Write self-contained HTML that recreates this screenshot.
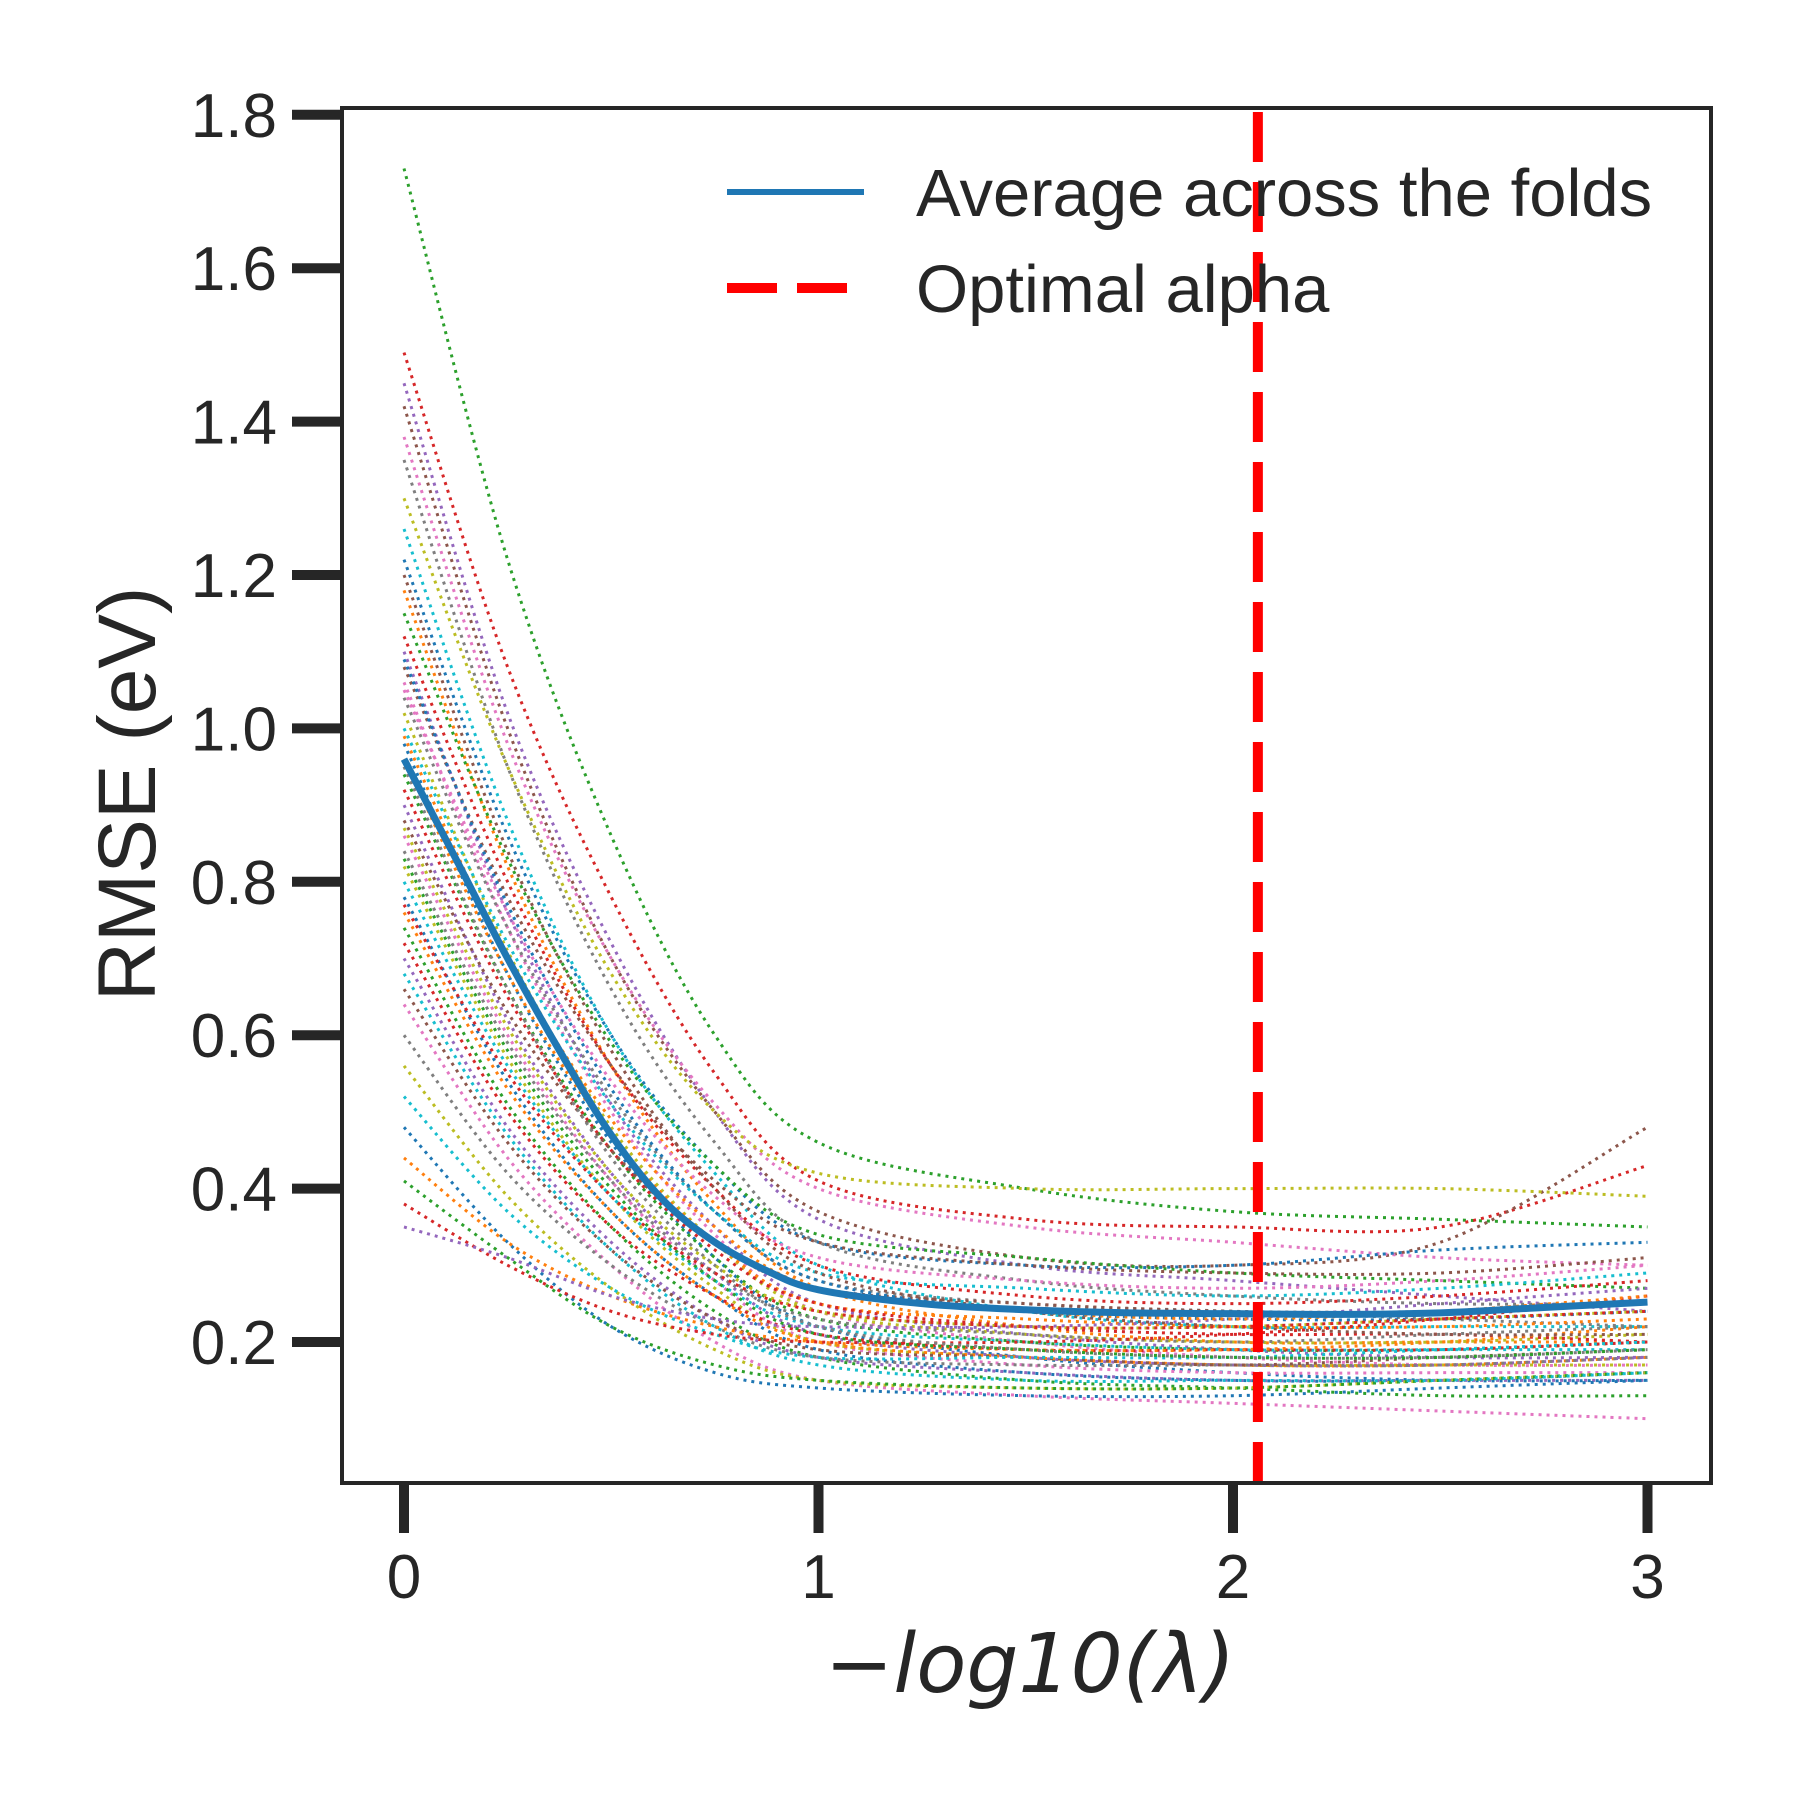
<!DOCTYPE html>
<html><head><meta charset="utf-8"><style>
html,body{margin:0;padding:0;background:#fff;width:1800px;height:1800px;overflow:hidden}
svg{display:block}
text{font-family:"Liberation Sans",Arial,sans-serif;fill:#262626}
</style></head><body>
<svg id="chart" width="1800" height="1800" viewBox="0 0 1800 1800" xmlns="http://www.w3.org/2000/svg">
<g id="folds"></g>
<g id="avg"></g>
<g id="opt"></g>
<rect x="342" y="108" width="1369" height="1375" fill="none" stroke="#262626" stroke-width="4"/>
<g id="yticks"></g>
<g id="xticks"></g>
<text x="0" y="0" font-size="82" text-anchor="middle" transform="translate(155,794) rotate(-90)">RMSE (eV)</text>
<text x="1030" y="1692" font-size="82" text-anchor="middle" style="font-family:'DejaVu Sans',sans-serif;font-style:italic">−log10(λ)</text>
<g>
<line x1="727" y1="192" x2="864" y2="192" stroke="#1f77b4" stroke-width="6"/>
<text x="916" y="216" font-size="67">Average across the folds</text>
<line x1="727" y1="288" x2="864" y2="288" stroke="#ff0000" stroke-width="10" stroke-dasharray="50 20"/>
<text x="916" y="312" font-size="67">Optimal alpha</text>
</g>
</svg>
<script>
const xPoints=[0,0.25,0.5,0.75,1,1.5,2,2.5,3];
const foldValues=[
[1.73,1.22,0.86,0.60,0.46,0.40,0.37,0.36,0.35],
[1.49,1.08,0.78,0.55,0.41,0.36,0.35,0.35,0.43],
[1.45,1.02,0.72,0.50,0.36,0.30,0.28,0.26,0.24],
[1.42,1.00,0.70,0.50,0.37,0.31,0.30,0.33,0.48],
[1.38,0.98,0.70,0.51,0.40,0.35,0.33,0.31,0.30],
[1.35,0.95,0.66,0.46,0.33,0.28,0.26,0.25,0.25],
[1.30,0.95,0.68,0.50,0.42,0.40,0.40,0.40,0.39],
[1.26,0.88,0.60,0.42,0.30,0.24,0.22,0.22,0.22],
[1.22,0.86,0.60,0.43,0.33,0.30,0.30,0.32,0.33],
[1.18,0.82,0.56,0.38,0.27,0.22,0.20,0.20,0.20],
[1.15,0.83,0.59,0.43,0.34,0.31,0.29,0.28,0.27],
[1.12,0.80,0.56,0.40,0.30,0.26,0.25,0.26,0.28],
[1.10,0.76,0.51,0.35,0.25,0.21,0.19,0.18,0.18],
[1.08,0.78,0.56,0.41,0.33,0.30,0.29,0.29,0.31],
[1.06,0.74,0.50,0.34,0.24,0.20,0.18,0.17,0.17],
[1.04,0.74,0.52,0.37,0.28,0.25,0.24,0.23,0.22],
[1.02,0.71,0.48,0.33,0.24,0.21,0.20,0.20,0.21],
[1.00,0.72,0.51,0.37,0.29,0.27,0.26,0.27,0.29],
[0.98,0.68,0.46,0.31,0.22,0.18,0.16,0.15,0.15],
[0.96,0.68,0.47,0.33,0.25,0.23,0.22,0.22,0.23],
[0.94,0.66,0.45,0.31,0.23,0.20,0.19,0.19,0.20],
[0.92,0.65,0.45,0.32,0.25,0.22,0.21,0.21,0.20],
[0.90,0.62,0.42,0.29,0.21,0.18,0.17,0.17,0.18],
[0.88,0.63,0.45,0.33,0.27,0.25,0.24,0.24,0.25],
[0.86,0.60,0.41,0.28,0.20,0.17,0.16,0.16,0.16],
[0.84,0.59,0.41,0.29,0.23,0.21,0.20,0.21,0.22],
[0.82,0.57,0.39,0.27,0.20,0.18,0.17,0.17,0.17],
[0.80,0.56,0.39,0.28,0.22,0.20,0.19,0.19,0.19],
[0.78,0.54,0.37,0.26,0.19,0.16,0.15,0.15,0.16],
[0.76,0.53,0.37,0.26,0.20,0.18,0.17,0.17,0.18],
[0.74,0.51,0.35,0.24,0.18,0.15,0.14,0.13,0.13],
[0.72,0.50,0.35,0.26,0.21,0.19,0.19,0.19,0.20],
[0.70,0.48,0.33,0.23,0.18,0.16,0.15,0.15,0.15],
[0.66,0.46,0.32,0.23,0.19,0.18,0.17,0.18,0.19],
[0.64,0.44,0.30,0.20,0.15,0.13,0.12,0.11,0.10],
[0.60,0.42,0.30,0.22,0.18,0.17,0.17,0.17,0.18],
[0.56,0.39,0.27,0.19,0.15,0.14,0.14,0.15,0.16],
[0.52,0.37,0.27,0.21,0.18,0.18,0.18,0.19,0.20],
[0.48,0.33,0.22,0.16,0.14,0.13,0.13,0.14,0.15],
[0.44,0.33,0.26,0.22,0.20,0.19,0.19,0.20,0.22],
[0.41,0.31,0.22,0.17,0.15,0.14,0.14,0.15,0.16],
[0.38,0.30,0.24,0.21,0.20,0.20,0.21,0.23,0.26],
[0.35,0.31,0.26,0.23,0.22,0.22,0.23,0.25,0.27],
[1.20,0.84,0.58,0.40,0.29,0.24,0.22,0.21,0.21],
[1.05,0.76,0.54,0.39,0.31,0.28,0.27,0.28,0.30],
[0.95,0.66,0.44,0.30,0.22,0.19,0.18,0.18,0.19],
[0.87,0.61,0.42,0.30,0.24,0.22,0.22,0.23,0.24],
[0.68,0.47,0.32,0.22,0.17,0.15,0.15,0.15,0.16],
[1.09,0.77,0.53,0.37,0.28,0.24,0.23,0.23,0.24],
[0.99,0.70,0.49,0.35,0.27,0.24,0.23,0.24,0.26],
[0.83,0.58,0.40,0.28,0.21,0.19,0.18,0.18,0.19],
[0.77,0.55,0.39,0.29,0.24,0.22,0.22,0.23,0.24]
];
const avgX=[0,0.125,0.25,0.375,0.5,0.625,0.75,0.875,1,1.25,1.5,1.75,2,2.25,2.5,2.75,3];
const avgValues=[0.96,0.83,0.70,0.58,0.47,0.385,0.33,0.293,0.268,0.250,0.242,0.238,0.237,0.236,0.238,0.245,0.252];
const optimalAlpha=2.06;
const yTicks=[0.2,0.4,0.6,0.8,1.0,1.2,1.4,1.6,1.8];
const yTickLabels=["0.2","0.4","0.6","0.8","1.0","1.2","1.4","1.6","1.8"];
const xTicks=[0,1,2,3];
const xTickLabels=["0","1","2","3"];
const colors=["#1f77b4","#ff7f0e","#2ca02c","#d62728","#9467bd","#8c564b","#e377c2","#7f7f7f","#bcbd22","#17becf"];
const NS="http://www.w3.org/2000/svg";
function xs(v){return 404+v*414.5;}
function ys(v){return 1342-(v-0.2)*767;}
function mk(tag,attrs,parent){const e=document.createElementNS(NS,tag);for(const k in attrs)e.setAttribute(k,attrs[k]);parent.appendChild(e);return e;}
function smoothPath(xv,yv){
  const p=xv.map((x,i)=>[xs(x),ys(yv[i])]);
  let d="M"+p[0][0]+","+p[0][1];
  for(let i=0;i<p.length-1;i++){
    const p0=p[i-1]||p[i],p1=p[i],p2=p[i+1],p3=p[i+2]||p2;
    const c1x=p1[0]+(p2[0]-p0[0])/6,c1y=p1[1]+(p2[1]-p0[1])/6;
    const c2x=p2[0]-(p3[0]-p1[0])/6,c2y=p2[1]-(p3[1]-p1[1])/6;
    d+=" C"+c1x+","+c1y+" "+c2x+","+c2y+" "+p2[0]+","+p2[1];
  }
  return d;
}
const fg=document.getElementById("folds");
foldValues.forEach((vals,i)=>{
  const el=mk("path",{d:smoothPath(xPoints,vals),fill:"none",stroke:colors[(i+2)%10],"stroke-width":"3","stroke-dasharray":"3 5"},fg);
  
  
});
const ag=document.getElementById("avg");
const av=mk("path",{d:smoothPath(avgX,avgValues),fill:"none",stroke:"#1f77b4","stroke-width":"7","stroke-linejoin":"round"},ag);


const og=document.getElementById("opt");
const ol=mk("line",{x1:xs(optimalAlpha),x2:xs(optimalAlpha),y1:112,y2:1483,stroke:"#ff0000","stroke-width":"10","stroke-dasharray":"50 20"},og);


const yg=document.getElementById("yticks");
yTicks.forEach((v,i)=>{
  const t=mk("line",{x1:292,x2:342,y1:ys(v),y2:ys(v),stroke:"#262626","stroke-width":"10"},yg);
  
  
  const l=mk("text",{x:277,y:ys(v)+22,"font-size":"62","text-anchor":"end"},yg);
  l.textContent=yTickLabels[i];
  
  
});
const xg=document.getElementById("xticks");
xTicks.forEach((v,i)=>{
  const t=mk("line",{x1:xs(v),x2:xs(v),y1:1483,y2:1533,stroke:"#262626","stroke-width":"10"},xg);
  
  
  const l=mk("text",{x:xs(v),y:1598,"font-size":"62","text-anchor":"middle"},xg);
  l.textContent=xTickLabels[i];
  
  
});
</script>
</body></html>
